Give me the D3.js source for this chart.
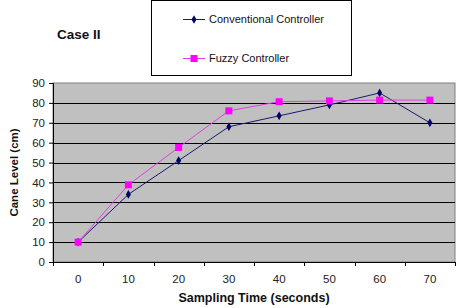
<!DOCTYPE html>
<html>
<head>
<meta charset="utf-8">
<script src="https://cdn.jsdelivr.net/npm/d3@7"></script>
<style>
body { margin: 0; background: #fff; }
text { font-family: Arial, "Liberation Sans", sans-serif; }
</style>
</head>
<body>
<div id="chart"></div>
<script>
var times = [0, 10, 20, 30, 40, 50, 60, 70];
var conventional = [10, 34, 51, 68, 73.5, 79, 85, 70];
var fuzzy = [10, 38.8, 57.6, 76, 80.6, 81, 81.4, 81.4];
var y_ticks = [0, 10, 20, 30, 40, 50, 60, 70, 80, 90];

var width = 461, height = 308;
var plot_left = 53, plot_right = 455, plot_top = 83, plot_bottom = 262;

var svg = d3.select('#chart')
    .append('svg')
    .attr('width', width)
    .attr('height', height);

// scales
var x_scale = d3.scaleBand()
    .domain(times)
    .range([plot_left, plot_right]);

var y_scale = d3.scaleLinear()
    .domain([0, 90])
    .range([plot_bottom, plot_top]);

// plot background
svg.append('rect')
    .attr('x', plot_left)
    .attr('y', plot_top)
    .attr('width', plot_right - plot_left)
    .attr('height', plot_bottom - plot_top)
    .attr('fill', '#c0c0c0')
    .attr('stroke', '#808080')
    .attr('stroke-width', 1);

// gridlines
svg.append('g')
    .selectAll('line')
    .data(y_ticks.filter(function(d) { return d > 0 && d < 90; }))
    .enter()
    .append('line')
    .attr('x1', plot_left)
    .attr('x2', plot_right)
    .attr('y1', function(d) { return Math.round(y_scale(d)) + 0.5; })
    .attr('y2', function(d) { return Math.round(y_scale(d)) + 0.5; })
    .attr('stroke', '#000')
    .attr('stroke-width', 1);

// axes
var y_axis = d3.axisLeft(y_scale)
    .tickValues(y_ticks)
    .tickSize(4)
    .tickPadding(4);

var gy = svg.append('g')
    .attr('transform', 'translate(' + plot_left + ',0)')
    .call(y_axis);

var x_axis = d3.axisBottom(x_scale)
    .tickSize(0)
    .tickPadding(13);

var gx = svg.append('g')
    .attr('transform', 'translate(0,' + plot_bottom + ')')
    .call(x_axis);

// category separator ticks on x axis
gx.selectAll('.sep')
    .data(times.concat([null]))
    .enter()
    .append('line')
    .attr('class', 'sep')
    .attr('x1', function(d, i) { return Math.round(plot_left + i * x_scale.step()) + 0.5; })
    .attr('x2', function(d, i) { return Math.round(plot_left + i * x_scale.step()) + 0.5; })
    .attr('y1', 0)
    .attr('y2', 4)
    .attr('stroke', '#000');

[gx, gy].forEach(function(g) {
    g.select('.domain').attr('stroke', '#000');
    g.selectAll('.tick line').attr('stroke', '#000');
    g.selectAll('.tick text')
        .attr('fill', '#222')
        .style('font-size', '11.5px');
});

// lines
var line = d3.line()
    .x(function(d, i) { return x_scale(times[i]) + x_scale.bandwidth() / 2; })
    .y(function(d) { return y_scale(d); });

svg.append('path')
    .datum(conventional)
    .attr('d', line)
    .attr('fill', 'none')
    .attr('stroke', '#1a1a6e')
    .attr('stroke-width', 1);

svg.append('path')
    .datum(fuzzy)
    .attr('d', line)
    .attr('fill', 'none')
    .attr('stroke', '#e040e0')
    .attr('stroke-width', 1);

// markers
var diamond = d3.symbol().type(d3.symbolDiamond).size(22);

svg.append('g')
    .selectAll('path')
    .data(conventional)
    .enter()
    .append('path')
    .attr('d', diamond)
    .attr('transform', function(d, i) {
        return 'translate(' + (x_scale(times[i]) + x_scale.bandwidth() / 2) + ',' + y_scale(d) + ')';
    })
    .attr('fill', '#000066');

svg.append('g')
    .selectAll('rect')
    .data(fuzzy)
    .enter()
    .append('rect')
    .attr('x', function(d, i) { return x_scale(times[i]) + x_scale.bandwidth() / 2 - 3.5; })
    .attr('y', function(d) { return y_scale(d) - 3.5; })
    .attr('width', 7)
    .attr('height', 7)
    .attr('fill', '#ff00ff');

// titles
svg.append('text')
    .attr('x', 57)
    .attr('y', 39)
    .style('font-size', '13.5px')
    .style('font-weight', 'bold')
    .attr('fill', '#111')
    .text('Case II');

svg.append('text')
    .attr('transform', 'translate(18,' + ((plot_top + plot_bottom) / 2) + ') rotate(-90)')
    .attr('text-anchor', 'middle')
    .style('font-size', '11.5px')
    .style('font-weight', 'bold')
    .attr('fill', '#111')
    .text('Cane Level (cm)');

svg.append('text')
    .attr('x', 254)
    .attr('y', 302)
    .attr('text-anchor', 'middle')
    .style('font-size', '12.5px')
    .style('font-weight', 'bold')
    .attr('fill', '#111')
    .text('Sampling Time (seconds)');

// legend
var legend = svg.append('g');
legend.append('rect')
    .attr('x', 151.5)
    .attr('y', 0.5)
    .attr('width', 200)
    .attr('height', 75)
    .attr('fill', '#fff')
    .attr('stroke', '#000');

var legend_items = [
    {name: 'Conventional Controller', color: '#1a1a6e', y: 19, marker: 'diamond'},
    {name: 'Fuzzy Controller', color: '#e040e0', y: 58, marker: 'square'}
];

legend_items.forEach(function(item) {
    legend.append('line')
        .attr('x1', 183)
        .attr('x2', 205)
        .attr('y1', item.y + 0.5)
        .attr('y2', item.y + 0.5)
        .attr('stroke', item.color);
    if (item.marker == 'diamond') {
        legend.append('path')
            .attr('d', diamond)
            .attr('transform', 'translate(194,' + (item.y + 0.5) + ')')
            .attr('fill', '#000066');
    } else {
        legend.append('rect')
            .attr('x', 190.5)
            .attr('y', item.y - 3)
            .attr('width', 7)
            .attr('height', 7)
            .attr('fill', '#ff00ff');
    }
    legend.append('text')
        .attr('x', 209)
        .attr('y', item.y + 4)
        .style('font-size', '11px')
        .attr('fill', '#111')
        .text(item.name);
});
</script>
</body>
</html>
